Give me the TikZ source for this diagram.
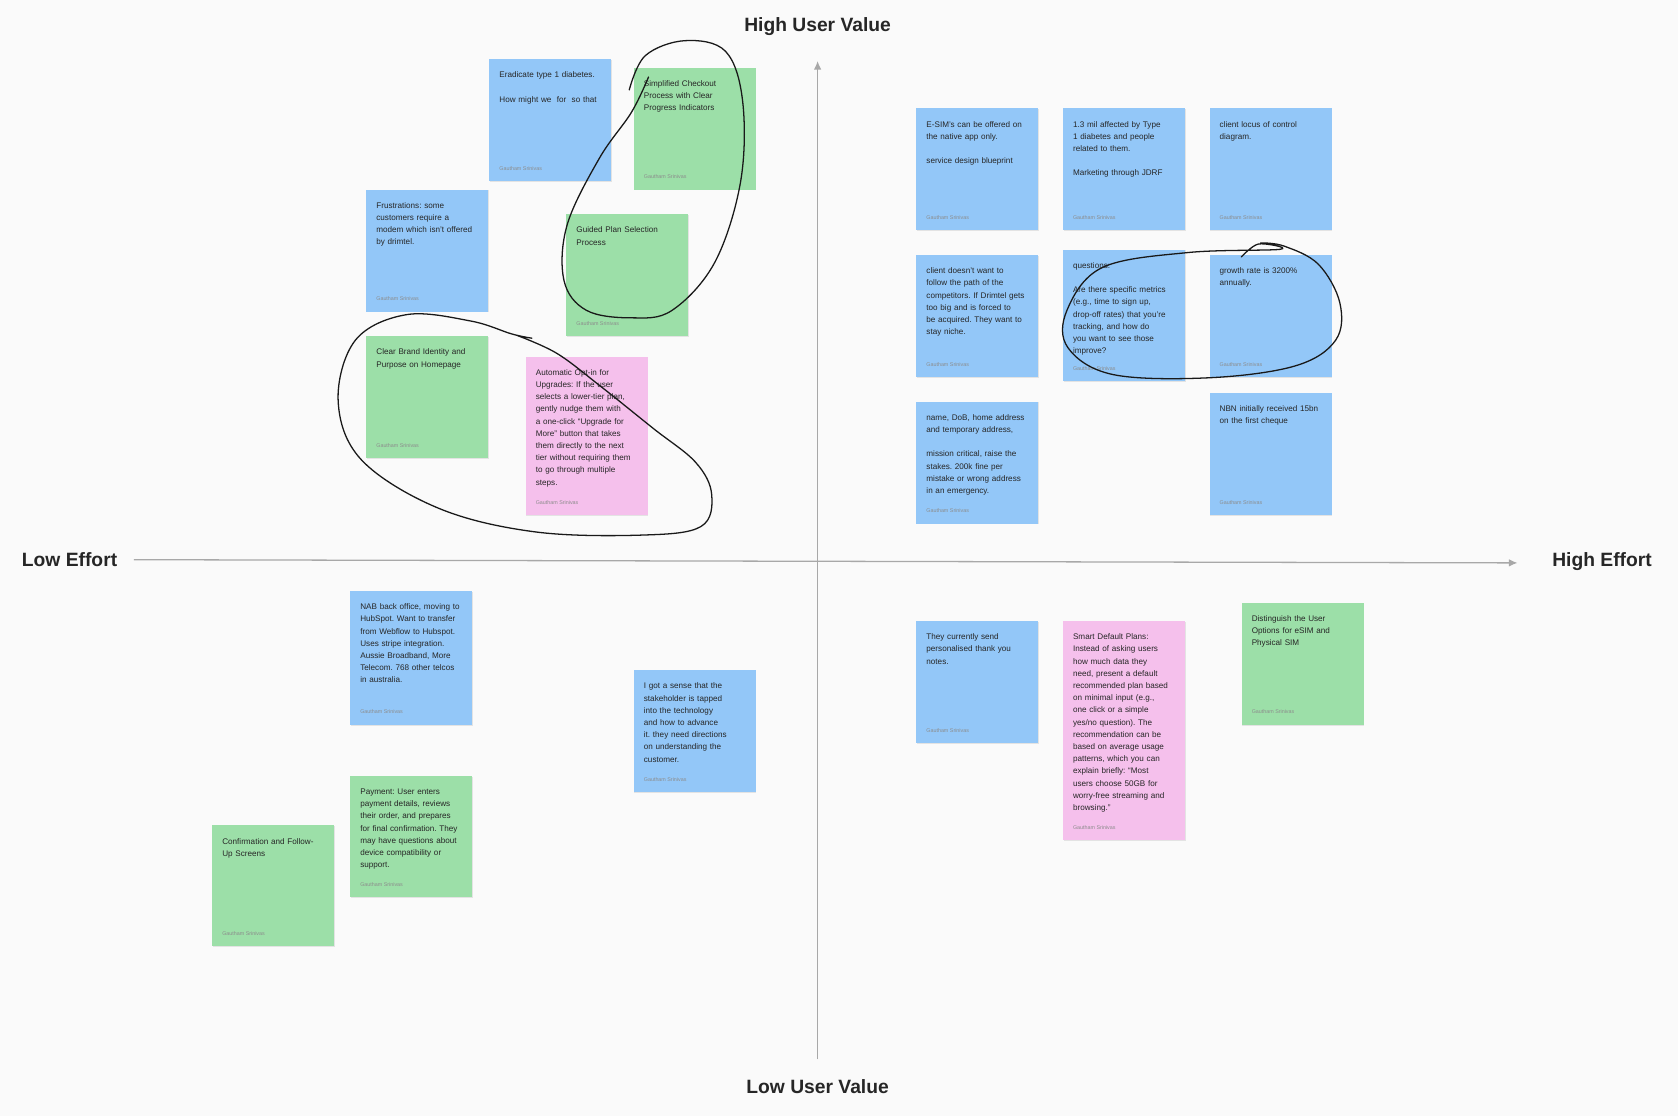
\documentclass[tikz,border=0pt]{standalone}
\usepackage{fontspec}
\setmainfont{Liberation Sans}
\usetikzlibrary{arrows.meta,shadows}
\definecolor{noteblue}{HTML}{93C7F8}
\definecolor{notegreen}{HTML}{9CDFA8}
\definecolor{notepink}{HTML}{F5C0EC}
\definecolor{axisgrey}{HTML}{A8A8A8}
\definecolor{bggrey}{HTML}{FAFAFA}
\frenchspacing
\tikzset{
  sticky/.style={draw=none, anchor=north west, minimum width=114pt, inner sep=0pt,
    drop shadow={shadow xshift=0.6pt, shadow yshift=-0.8pt, opacity=0.18}},
  notetext/.style={anchor=north west, text width=93pt, inner sep=0pt,
    align=left, font=\fontsize{7.6}{11.4}\selectfont, text=black!85},
  author/.style={anchor=south west, inner sep=0pt, font=\fontsize{5}{6}\selectfont, text=black!45},
  axis/.style={draw=axisgrey, line width=1.2pt, -{Latex[length=8pt,width=7pt]}},
  axislabel/.style={font=\bfseries\fontsize{18}{20}\selectfont, text=black!85},
  scribble/.style={draw=black!90, line width=1.2pt, line cap=round}
}
% \sticky{name}{x}{y}{height}{colour}{text}
\newcommand\sticky[6]{%
  \node[sticky, fill=#5, minimum height=#4pt] (#1) at (#2,#3) {};
  \node[notetext] at ([xshift=9.5pt,yshift=-12pt]#1.north west) {#6};
  \node[author] at ([xshift=9.5pt,yshift=10pt]#1.south west) {Gautham Srinivas};
}
\begin{document}
\hyphenpenalty=10000
\begin{tikzpicture}[x=1pt,y=-1pt]
    \fill[bggrey] (0,0) rectangle (1568,1043);
    \useasboundingbox (0,0) rectangle (1568,1043);

    % axes
    \coordinate (bottom) at (764,990);
    \coordinate (top) at (764,57);
    \coordinate (left) at (125,523);
    \coordinate (right) at (1418,526);
    \draw[axis] (bottom) -- (top);
    \draw[axis] (left) -- (right);
    \node[axislabel] (hiv) at (764,25) {High User Value};
    \node[axislabel] (lov) at (764,1015) {Low User Value};
    \node[axislabel] (loe) at (65,523) {Low Effort};
    \node[axislabel] (hie) at (1497,525) {High Effort};

    % top left
    \sticky{eradicate}{457}{55}{114}{noteblue}{Eradicate type 1 diabetes.\\[11.4pt]How might we\ \ for\ \ so that}
    \sticky{checkout}{592}{63}{114}{notegreen}{Simplified Checkout Process with Clear Progress Indicators}
    \sticky{frustrations}{342}{177}{114}{noteblue}{Frustrations: some customers require a modem which isn't offered by drimtel.}
    \sticky{guided}{529}{200}{114}{notegreen}{Guided Plan Selection Process}
    \sticky{brand}{342}{314}{114}{notegreen}{Clear Brand Identity and Purpose on Homepage}
    \sticky{optin}{491}{333}{148}{notepink}{Automatic Opt-in for Upgrades: If the user selects a lower-tier plan, gently nudge them with a one-click “Upgrade for More” button that takes them directly to the next tier without requiring them to go through multiple steps.}

    % top right
    \sticky{esim}{856}{101}{114}{noteblue}{E-SIM's can be offered on the native app only.\\[11.4pt]service design blueprint}
    \sticky{mil}{993}{101}{114}{noteblue}{1.3 mil affected by Type 1 diabetes and people related to them.\\[11.4pt]Marketing through JDRF}
    \sticky{locus}{1130}{101}{114}{noteblue}{client locus of control diagram.}
    \sticky{niche}{856}{238}{114}{noteblue}{client doesn't want to follow the path of the competitors. If Drimtel gets too big and is forced to be acquired. They want to stay niche.}
    \sticky{questions}{993}{233}{123}{noteblue}{questions:\\[11.4pt]Are there specific metrics (e.g., time to sign up, drop-off rates) that you're tracking, and how do you want to see those improve?}
    \sticky{growth}{1130}{238}{114}{noteblue}{growth rate is 3200\% annually.}
    \sticky{dob}{856}{375}{114}{noteblue}{name, DoB, home address and temporary address,\\[11.4pt]mission critical, raise the stakes. 200k fine per mistake or wrong address in an emergency.}
    \sticky{nbn}{1130}{367}{114}{noteblue}{NBN initially received 15bn on the first cheque}

    % bottom left
    \sticky{nab}{327}{552}{125}{noteblue}{NAB back office, moving to HubSpot. Want to transfer from Webflow to Hubspot. Uses stripe integration. Aussie Broadband, More Telecom. 768 other telcos in australia.}
    \sticky{sense}{592}{626}{114}{noteblue}{I got a sense that the stakeholder is tapped into the technology and how to advance it. they need directions on understanding the customer.}
    \sticky{payment}{327}{725}{113}{notegreen}{Payment: User enters payment details, reviews their order, and prepares for final confirmation. They may have questions about device compatibility or support.}
    \sticky{confirm}{198}{771}{113}{notegreen}{Confirmation and Follow-Up Screens}

    % bottom right
    \sticky{thanks}{856}{580}{114}{noteblue}{They currently send personalised thank you notes.}
    \sticky{smart}{993}{580}{205}{notepink}{Smart Default Plans: Instead of asking users how much data they need, present a default recommended plan based on minimal input (e.g., one click or a simple yes/no question). The recommendation can be based on average usage patterns, which you can explain briefly: “Most users choose 50GB for worry-free streaming and browsing.”}
    \sticky{distinguish}{1160}{563}{114}{notegreen}{Distinguish the User Options for eSIM and Physical SIM}

    % scribbles
    \draw[scribble] plot[smooth, tension=0.6] coordinates {(588,84) (603,52) (640,38) (678,48) (694,95) (692,170) (668,245) (628,290) (590,297) (548,290) (527,262) (530,210) (560,148) (590,105) (606,72)};
    \draw[scribble] plot[smooth, tension=0.6] coordinates {(497,316) (478,312) (440,300) (380,294) (332,318) (316,375) (338,430) (410,475) (500,497) (600,500) (655,492) (665,462) (650,432) (610,400) (560,360) (520,330) (482,313)};
    \draw[scribble] plot[smooth, tension=0.6] coordinates {(1160,240) (1176,228) (1196,233) (1110,236) (1030,250) (997,290) (998,325) (1040,350) (1130,353) (1210,342) (1248,318) (1252,283) (1232,247) (1200,230) (1178,227)};
\end{tikzpicture}
\end{document}
